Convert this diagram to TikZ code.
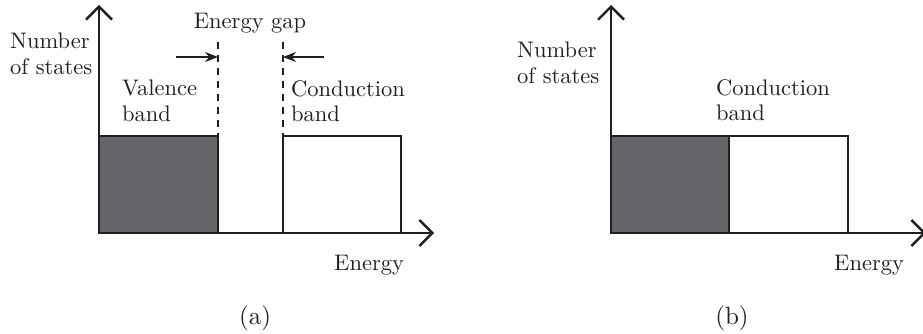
\documentclass[tikz,border=0pt]{standalone}
\usepackage{fontspec}
\setmainfont{lmroman10-regular.otf}
\usetikzlibrary{arrows.meta}
\definecolor{bandfill}{RGB}{99,101,105}
\definecolor{ink}{RGB}{35,31,32}
\begin{document}
\begin{tikzpicture}[x=1pt,y=-1pt, color=ink,
  axis/.style={line width=2.6pt, line cap=rect,
    -{Straight Barb[length=13pt,width=26pt,line width=2.4pt]}},
  bandbox/.style={line width=2.4pt},
  filled/.style={bandbox, fill=bandfill},
  gapline/.style={line width=1.2pt, dash pattern=on 7pt off 6pt},
  gaparrow/.style={line width=1.3pt, -{Stealth[length=13pt,width=10pt]}},
  lbl/.style={font=\fontsize{22.5}{25.5}\selectfont, inner sep=0pt, align=left},
  caption/.style={font=\fontsize{25}{30}\selectfont, inner sep=0pt},
]
\useasboundingbox (0,0) rectangle (923,334);

% ---------- (a) semiconductor / insulator ----------
\coordinate (oa) at (99,233);
\coordinate (ya) at (99,5);
\coordinate (xa) at (434,233);
\coordinate (vtop) at (218,136);
\coordinate (clow) at (283,233);
\coordinate (ctop) at (401,136);
\coordinate (dl) at (218,42);
\coordinate (dr) at (283,42);
\coordinate (al) at (176,57);
\coordinate (ar) at (324,57);
\coordinate (alh) at (218,57);
\coordinate (arh) at (283,57);

\draw[filled] (oa) rectangle (vtop);
\draw[bandbox] (clow) rectangle (ctop);
\draw[gapline] (dl) -- (vtop);
\draw[gapline] (dr) -- (clow |- ctop);
\draw[gaparrow] (al) -- (alh);
\draw[gaparrow] (ar) -- (arh);
\draw[axis] (oa) -- (ya);
\draw[axis] (oa) -- (xa);

\node[lbl, anchor=north west] (nsa) at (10,33) {Number\\of states};
\node[lbl, anchor=north west] (vb) at (122,80) {Valence\\band};
\node[lbl, anchor=north west] (cba) at (291,80) {Conduction\\band};
\node[lbl, anchor=north] (gap) at (250,13) {Energy gap};
\node[lbl, anchor=north west] (ea) at (334,255) {Energy};
\node[caption] (capa) at (255,318) {(a)};

% ---------- (b) metal ----------
\coordinate (ob) at (611,233);
\coordinate (yb) at (611,5);
\coordinate (xb) at (926,233);
\coordinate (mtop) at (729,136);
\coordinate (mlow) at (729,233);
\coordinate (btop) at (848,136);

\draw[filled] (ob) rectangle (mtop);
\draw[bandbox] (mlow) rectangle (btop);
\draw[axis] (ob) -- (yb);
\draw[axis] (ob) -- (xb);

\node[lbl, anchor=north west] (nsb) at (517,42) {Number\\of states};
\node[lbl, anchor=north west] (cbb) at (716,79) {Conduction\\band};
\node[lbl, anchor=north west] (eb) at (834,255) {Energy};
\node[caption] (capb) at (732,318) {(b)};
\end{tikzpicture}
\end{document}
